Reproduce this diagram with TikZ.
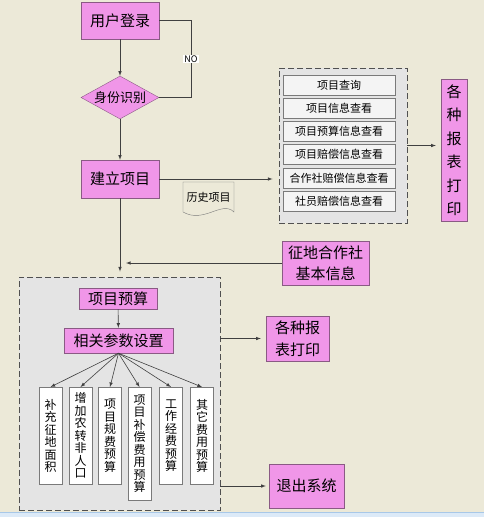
\documentclass[tikz,border=0pt]{standalone}
\usepackage{fontspec}
\setmainfont{Noto Sans CJK SC}
\usetikzlibrary{arrows, shapes.geometric, calc}
\definecolor{bgbeige}{HTML}{ECE9D8}
\definecolor{pinkfill}{HTML}{F096E8}
\definecolor{pinkline}{HTML}{8A5A84}
\definecolor{grpfill}{HTML}{E4E4E4}
\definecolor{grpline}{HTML}{505050}
\definecolor{itemfill}{HTML}{F4F4F4}
\definecolor{itemline}{HTML}{7A7A7A}
\definecolor{wireline}{HTML}{404040}
\definecolor{stripblue}{HTML}{DCEAF8}
\definecolor{stripline}{HTML}{A8C8E8}
\tikzset{
    my-pink-box/.style={
        draw=pinkline, fill=pinkfill, inner sep=0pt, align=center,
        font=\fontsize{15}{22}\selectfont
    },
    my-pink-diamond/.style={
        diamond, aspect=1.8, draw=pinkline, fill=pinkfill, inner sep=0pt,
        minimum width=78pt, minimum height=43pt, font=\fontsize{13}{15}\selectfont
    },
    my-group/.style={
        draw=grpline, fill=grpfill, dash pattern=on 6pt off 3pt, line width=.9pt
    },
    my-item/.style={
        draw=itemline, fill=itemfill, inner sep=0pt, minimum width=112pt,
        minimum height=20pt, font=\fontsize{11}{13}\selectfont
    },
    my-vitem/.style={
        draw=itemline, fill=white, inner sep=0pt, anchor=north, align=center,
        minimum width=23pt, font=\fontsize{12}{12.5}\selectfont
    },
    my-arrow/.style={-latex, draw=wireline, line width=.6pt},
    my-wire/.style={draw=wireline, line width=.6pt},
}

\begin{document}
\begin{tikzpicture}[x=1pt, y=-1pt]

        % CANVAS
        \useasboundingbox (0,0) rectangle (484,517);
        \fill[bgbeige] (0,0) rectangle (484,517);
        \fill[stripblue] (0,512) rectangle (484,517);
        \draw[stripline] (0,512.5) -- (484,512.5);

        % MAIN FLOW
        \node[my-pink-box, minimum width=78pt, minimum height=37pt] (LOGIN)  at (120,20.5) {用户登录};
        \node[my-pink-diamond]                                      (IDENT)  at (120,97.5) {身份识别};
        \node[my-pink-box, minimum width=78pt, minimum height=38pt] (CREATE) at (120,179)  {建立项目};

        \draw[my-arrow] (LOGIN) -- (IDENT);
        \draw[my-arrow] (IDENT) -- (CREATE);

        % NO LOOP
        \coordinate[] (NOA) at (191,20.5);
        \coordinate[] (NOB) at (191,97.5);
        \draw[my-wire] (LOGIN.east) -- (NOA)
            -- node[fill=white, inner sep=1pt, font=\fontsize{9}{10}\selectfont] (NO) {NO} (NOB)
            -- (IDENT.east);

        % HISTORY DOCUMENT
        \draw[draw=itemline, fill=bgbeige] (183,182) -- (234,182) -- (234,212)
            .. controls (222,200) and (204,224) .. (183,212) -- cycle;
        \node[font=\fontsize{11}{13}\selectfont] (HIST) at (208.5,197) {历史项目};

        % QUERY GROUP
        \node[my-group, minimum width=128pt, minimum height=155pt] (LISTGRP) at (343,145.5) {};
        \node[my-item] (QA) at (339,85)    {项目查询};
        \node[my-item] (QB) at (339,108.2) {项目信息查看};
        \node[my-item] (QC) at (339,131.4) {项目预算信息查看};
        \node[my-item] (QD) at (339,154.6) {项目赔偿信息查看};
        \node[my-item] (QE) at (339,177.8) {合作社赔偿信息查看};
        \node[my-item] (QF) at (339,201)   {社员赔偿信息查看};

        \draw[my-arrow, shorten >=6pt] (CREATE.east) -- (CREATE.east -| LISTGRP.west);

        % REPORTS (TOP)
        \node[my-pink-box, minimum width=26pt, minimum height=142pt,
              font=\fontsize{15}{23.5}\selectfont] (REPORTA) at (454,150)
              {各\\种\\报\\表\\打\\印};
        \draw[my-arrow, shorten >=5pt] (LISTGRP.east) -- (LISTGRP.east -| REPORTA.west);

        % COOPERATIVE INFO
        \node[my-pink-box, minimum width=87pt, minimum height=44pt,
              font=\fontsize{15}{21}\selectfont] (COOP) at (325.5,263) {征地合作社\\基本信息};
        \draw[my-arrow, shorten >=6pt] (COOP.west) -- (COOP.west -| CREATE.south);

        % BUDGET GROUP
        \node[my-group, minimum width=201pt, minimum height=233pt] (BUDGRP) at (119.5,393.5) {};
        \draw[my-arrow, shorten >=5pt] (CREATE.south) -- (BUDGRP.north -| CREATE.south);

        \node[my-pink-box, minimum width=78pt, minimum height=21pt]  (BUDGET) at (118,298.5)  {项目预算};
        \node[my-pink-box, minimum width=109pt, minimum height=25pt] (PARAMS) at (118.5,340.5) {相关参数设置};
        \draw[my-arrow] (BUDGET) -- (PARAMS);

        \node[my-vitem, minimum height=97pt]  (VA) at (50.5,387)  {补\\充\\征\\地\\面\\积};
        \node[my-vitem, minimum height=97pt]  (VB) at (80.5,387)  {增\\加\\农\\转\\非\\人\\口};
        \node[my-vitem, minimum height=97pt]  (VC) at (110,387)   {项\\目\\规\\费\\预\\算};
        \node[my-vitem, minimum height=113pt] (VD) at (139.5,387) {项\\目\\补\\偿\\费\\用\\预\\算};
        \node[my-vitem, minimum height=97pt]  (VE) at (171,387)   {工\\作\\经\\费\\预\\算};
        \node[my-vitem, minimum height=97pt]  (VF) at (202,387)   {其\\它\\费\\用\\预\\算};

        \draw[my-arrow] (PARAMS.south) -- (VA.north);
        \draw[my-arrow] (PARAMS.south) -- (VB.north);
        \draw[my-arrow] (PARAMS.south) -- (VC.north);
        \draw[my-arrow] (PARAMS.south) -- (VD.north);
        \draw[my-arrow] (PARAMS.south) -- (VE.north);
        \draw[my-arrow] (PARAMS.south) -- (VF.north);

        % REPORTS (BOTTOM) AND EXIT
        \node[my-pink-box, minimum width=63pt, minimum height=45pt] (REPORTB) at (297.5,338.5) {各种报\\表打印};
        \node[my-pink-box, minimum width=75pt, minimum height=44pt] (EXIT)    at (306.5,486)   {退出系统};
        \draw[my-arrow, shorten >=5pt] (BUDGRP.east |- REPORTB.west) -- (REPORTB.west);
        \draw[my-arrow, shorten >=3pt] (BUDGRP.east |- EXIT.west) -- (EXIT.west);

    \end{tikzpicture}
\end{document}
